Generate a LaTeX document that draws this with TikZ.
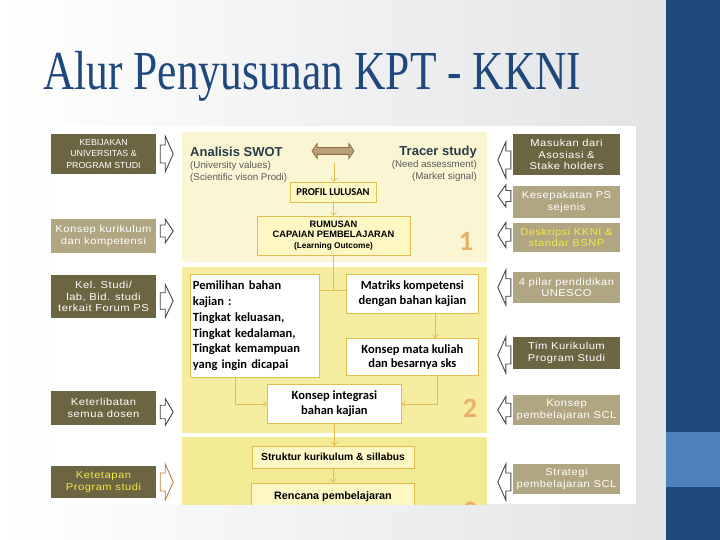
\documentclass[tikz,border=0pt]{standalone}
\usepackage{fontspec}
\setmainfont{Liberation Sans}
\newfontfamily\titlefont{Liberation Serif}
\newfontfamily\boxfont[FakeStretch=1.12, LetterSpace=5]{Liberation Sans}
\newfontfamily\calfont{Carlito}
\usetikzlibrary{shapes.arrows, arrows.meta, positioning, calc}

\definecolor{slidenavy}{RGB}{31,73,125}
\definecolor{slidesky}{RGB}{79,129,189}
\definecolor{slidegray}{RGB}{226,227,229}
\definecolor{boxdark}{RGB}{108,101,66}
\definecolor{boxtan}{RGB}{176,166,130}
\definecolor{boxyellow}{RGB}{242,232,70}
\definecolor{panelone}{RGB}{250,246,212}
\definecolor{paneltwo}{RGB}{245,237,160}
\definecolor{panelthree}{RGB}{243,234,150}
\definecolor{goldline}{RGB}{228,188,80}
\definecolor{goldbox}{RGB}{253,247,196}
\definecolor{swotink}{RGB}{40,60,75}
\definecolor{noteink}{RGB}{90,90,90}
\definecolor{digitink}{RGB}{234,176,104}
\definecolor{arrowink}{RGB}{70,70,70}
\definecolor{arrowrust}{RGB}{196,122,62}
\definecolor{arrowfill}{RGB}{186,160,120}
\definecolor{arrowedge}{RGB}{140,108,68}

\tikzset{
  sidebox/.style={fill=boxdark, text=white, align=center, inner sep=1pt,
    minimum width=105, font=\boxfont\fontsize{10}{11.5}\selectfont},
  tanbox/.style={sidebox, fill=boxtan},
  % hollow block arrow: #1 = half breadth of the head, #2 = 1 (east) or -1 (west)
  pics/blockarrow/.style 2 args={code={
    \draw[pic actions, fill=white, line width=0.9pt]
      (0,-#1/2) -- (#2*5,-#1/2) -- (#2*5,-#1) -- (#2*13,0) -- (#2*5,#1)
      -- (#2*5,#1/2) -- (0,#1/2) -- cycle;
  }},
  stepbox/.style={draw=goldline, fill=goldbox, line width=0.8pt, inner sep=2pt, align=center},
  whitebox/.style={stepbox, fill=white, font=\calfont\bfseries\fontsize{12.5}{14.5}\selectfont},
  flow/.style={draw=goldline, line width=0.7pt, -{Straight Barb[length=3pt,width=6pt]}},
  digit/.style={font=\calfont\bfseries\fontsize{28}{28}\selectfont, text=digitink},
}

\begin{document}
\begin{tikzpicture}[x=1pt, y=-1pt]
    \useasboundingbox (0,0) rectangle (720,540);
    \fill[left color=white, right color=slidegray] (0,0) rectangle (666,540);
    \fill[slidenavy] (666,0) rectangle (720,540);
    \fill[slidesky] (666,432) rectangle (720,487);

    \node[anchor=base west, inner sep=0pt, text=slidenavy,
      font=\titlefont\fontsize{55}{60}\selectfont] (title) at (43,90)
      {\scalebox{0.79}[1]{Alur Penyusunan KPT - KKNI}};

    % the chart
    \fill[white] (49,126) rectangle (636,504);
    \begin{scope}
    \clip (49,126) rectangle (636,504);
    \node[fill=panelone, minimum width=305, minimum height=130, inner sep=0pt] (stage1) at (334.5,197) {};
    \node[fill=paneltwo, minimum width=305, minimum height=166, inner sep=0pt] (stage2) at (334.5,350) {};
    \node[fill=panelthree, minimum width=305, minimum height=78, inner sep=0pt] (stage3) at (334.5,476) {};

    \node[anchor=base west, inner sep=0pt, text=swotink,
      font=\bfseries\fontsize{13}{13}\selectfont] (swot) at (190,157) {Analisis SWOT};
    \node[anchor=north west, inner sep=0pt, text=noteink, align=left,
      font=\fontsize{9.8}{11.5}\selectfont] (values) at (190,161.5)
      {(University values)\\(Scientific vison Prodi)};
    \node[anchor=base east, inner sep=0pt, text=swotink,
      font=\bfseries\fontsize{13}{13}\selectfont] (tracer) at (477,156) {Tracer study};
    \node[anchor=north east, inner sep=0pt, text=noteink, align=right,
      font=\fontsize{9.8}{12}\selectfont] (need) at (477,160.5)
      {(Need assessment)\\(Market signal)};
    \node[double arrow, draw=arrowedge, fill=arrowfill, line width=0.8pt, minimum height=42,
      inner xsep=0pt, inner ysep=3pt, double arrow head extend=4pt,
      double arrow tip angle=110] (link) at (333,151) {};
    \coordinate (linkfoot) at (334,163);

    \node[stepbox, minimum width=86, minimum height=20,
      font=\calfont\bfseries\fontsize{10.5}{12}\selectfont] (profil) at (333,192) {PROFIL LULUSAN};
    \node[stepbox, minimum width=153, minimum height=39,
      font=\bfseries\fontsize{9.3}{10.3}\selectfont] (rumusan) at (333.5,235.5)
      {RUMUSAN\\CAPAIAN PEMBELAJARAN\\{\fontsize{8.3}{10}\selectfont(Learning Outcome)}};
    \node[digit] (one) at (466,241) {1};

    \draw[flow] (linkfoot) -- (linkfoot |- profil.north);
    \draw[flow] (profil.south -| rumusan.north) -- (rumusan.north);

    \node[whitebox, anchor=north west, text width=124, inner xsep=2.5pt, align=left,
      minimum height=103, font=\calfont\bfseries\fontsize{12.5}{15.8}\selectfont] (pemilihan) at (190,274)
      {Pemilihan bahan\\kajian :\\Tingkat keluasan,\\Tingkat kedalaman,\\Tingkat kemampuan\\yang ingin dicapai};
    \node[whitebox, anchor=north west, minimum width=132, minimum height=39] (matriks) at (346,274)
      {Matriks kompetensi\\dengan bahan kajian};
    \node[whitebox, anchor=north west, minimum width=132, minimum height=37] (matakuliah) at (346,338)
      {Konsep mata kuliah\\dan besarnya sks};
    \node[whitebox, anchor=north west, minimum width=134, minimum height=39] (integrasi) at (267,384)
      {Konsep integrasi\\bahan kajian};
    \node[digit] (two) at (470,408) {2};

    \coordinate (split) at (334,290);
    \draw[goldline, line width=0.7pt] (rumusan.south) -- (rumusan.south |- split);
    \draw[goldline, line width=0.7pt] (pemilihan.east |- split) -- (matriks.west |- split);
    \draw[flow] ([xshift=23pt]matriks.south) -- ([xshift=23pt]matakuliah.north);
    \draw[flow] ([xshift=-19.5pt]pemilihan.south) |- (integrasi.west);
    \draw[flow] ([xshift=25pt]matakuliah.south) |- (integrasi.east);

    \node[stepbox, minimum width=162, minimum height=22,
      font=\bfseries\fontsize{10.3}{12}\selectfont] (struktur) at (333,457) {Struktur kurikulum \& sillabus};
    \node[stepbox, minimum width=163, minimum height=28,
      font=\bfseries\fontsize{10.8}{12}\selectfont] (rencana) at (333,497) {Rencana pembelajaran};
    \node[digit] (three) at (470,511) {3};

    \draw[flow] (integrasi.south) -- (integrasi.south |- struktur.north);
    \draw[flow] (struktur.south) -- (rencana.north);
    \end{scope}

    % inputs on the left
    \node[sidebox, minimum height=40, font=\fontsize{8.8}{11.5}\selectfont] (kebijakan) at (103.5,154)
      {KEBIJAKAN\\UNIVERSITAS \&\\PROGRAM STUDI};
    \node[tanbox, minimum height=33] (kurikulum) at (103.5,236) {Konsep kurikulum\\dan kompetensi};
    \node[sidebox, minimum height=43] (kelstudi) at (103.5,296.5) {Kel. Studi/\\lab, Bid. studi\\terkait Forum PS};
    \node[sidebox, minimum height=34] (dosen) at (103.5,408) {Keterlibatan\\semua dosen};
    \node[sidebox, minimum height=32, text=boxyellow] (ketetapan) at (103.5,482) {Ketetapan\\Program studi};

    \pic[draw=arrowink] (inkebijakan) at ([xshift=4pt]kebijakan.east) {blockarrow={18}{1}};
    \pic[draw=arrowink] (inkurikulum) at ([xshift=4pt, yshift=5pt]kurikulum.east) {blockarrow={12}{1}};
    \pic[draw=arrowink] (inkelstudi) at ([xshift=4pt, yshift=-4.5pt]kelstudi.east) {blockarrow={16.5}{1}};
    \pic[draw=arrowink] (indosen) at ([xshift=4pt, yshift=-4pt]dosen.east) {blockarrow={13.5}{1}};
    \pic[draw=arrowrust] (inketetapan) at ([xshift=4pt]ketetapan.east) {blockarrow={18}{1}};

    % inputs on the right
    \node[sidebox, minimum width=107, minimum height=41] (masukan) at (566.5,154.5)
      {Masukan dari\\Asosiasi \&\\Stake holders};
    \node[tanbox, minimum width=107, minimum height=32] (kesepakatan) at (566.5,202) {Kesepakatan PS\\sejenis};
    \node[tanbox, minimum width=107, minimum height=29, text=boxyellow] (deskripsi) at (566.5,237.5)
      {Deskripsi KKNI \&\\standar BSNP};
    \node[tanbox, minimum width=107, minimum height=31] (pilar) at (566.5,287.5) {4 pilar pendidikan\\UNESCO};
    \node[sidebox, minimum width=107, minimum height=32] (timkur) at (566.5,353) {Tim Kurikulum\\Program Studi};
    \node[tanbox, minimum width=107, minimum height=30] (konsepscl) at (566.5,410) {Konsep\\pembelajaran SCL};
    \node[tanbox, minimum width=107, minimum height=30] (strategi) at (566.5,479) {Strategi\\pembelajaran SCL};

    \pic[draw=arrowink] (outmasukan) at ([xshift=-2pt, yshift=-5.5pt]masukan.west) {blockarrow={18}{-1}};
    \pic[draw=arrowink] (outkesepakatan) at ([xshift=-2pt, yshift=6pt]kesepakatan.west) {blockarrow={11}{-1}};
    \pic[draw=arrowink] (outdeskripsi) at ([xshift=-2pt, yshift=2.5pt]deskripsi.west) {blockarrow={12.5}{-1}};
    \pic[draw=arrowink] (outpilar) at ([xshift=-2pt]pilar.west) {blockarrow={17.5}{-1}};
    \pic[draw=arrowink] (outtimkur) at ([xshift=-2pt, yshift=-2pt]timkur.west) {blockarrow={18}{-1}};
    \pic[draw=arrowink] (outkonsepscl) at ([xshift=-2pt]konsepscl.west) {blockarrow={13.5}{-1}};
    \pic[draw=arrowink] (outstrategi) at ([xshift=-2pt, yshift=-3pt]strategi.west) {blockarrow={18}{-1}};
\end{tikzpicture}
\end{document}
